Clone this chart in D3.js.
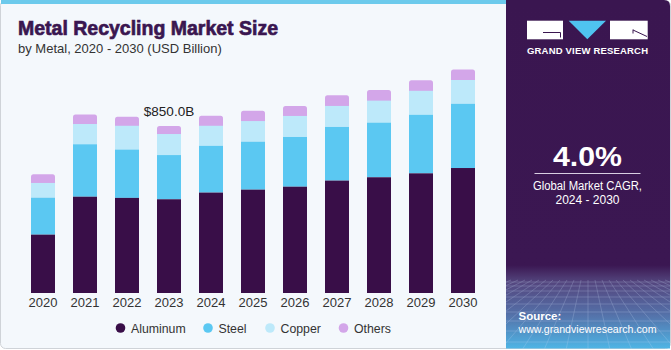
<!DOCTYPE html>
<html>
<head>
<meta charset="utf-8">
<script src="https://cdn.jsdelivr.net/npm/d3@7"></script>
<style>
  html, body { margin: 0; padding: 0; background: #fff; }
  svg { display: block; }
  text { font-family: "Liberation Sans", Arial, sans-serif; }
</style>
</head>
<body>
<div id="chart"></div>
<script>
// values (USD Billion)
const years = ["2020", "2021", "2022", "2023", "2024", "2025", "2026", "2027", "2028", "2029", "2030"];
const aluminum = [297, 490, 484, 477, 511, 526, 541, 572, 589, 609, 636];
const steel    = [188, 267, 246, 225, 238, 244, 253, 273, 278, 298, 327];
const copper   = [75, 103, 121, 107, 102, 105, 107, 107, 112, 122, 121];
const others   = [44, 49, 46, 41, 51, 52, 51, 54, 54, 54, 54];
const seriesNames = ["Aluminum", "Steel", "Copper", "Others"];
const colors = ["#390e48", "#5bc8f2", "#bde9fa", "#d3a6e9"];
const labelYear = "2023", labelText = "$850.0B";

const W = 671, H = 350;
const svg = d3.select("#chart").append("svg").attr("width", W).attr("height", H);

// card background and border
svg.append("rect").attr("x", 0.5).attr("y", 0.5).attr("width", W - 1).attr("height", 348)
  .attr("rx", 5).attr("fill", "#f4f8fc").attr("stroke", "#cfd3d8");
svg.append("rect").attr("x", 1).attr("y", 0).attr("width", 506).attr("height", 4).attr("fill", "#6ccaec");

// title
svg.append("text").attr("x", 18).attr("y", 35).text("Metal Recycling Market Size")
  .attr("font-size", 21).attr("font-weight", 900).attr("fill", "#3a1650")
  .attr("stroke", "#3a1650").attr("stroke-width", 0.7)
  .attr("textLength", 260).attr("lengthAdjust", "spacingAndGlyphs");
svg.append("text").attr("x", 18).attr("y", 53).text("by Metal, 2020 - 2030 (USD Billion)")
  .attr("font-size", 13).attr("fill", "#333");

// data table for the stack
const rows = years.map((y, i) => ({year: y, Aluminum: aluminum[i], Steel: steel[i], Copper: copper[i], Others: others[i]}));
const stack = d3.stack().keys(seriesNames)(rows);

const x = d3.scaleBand().domain(years).range([22, 484]).paddingInner(18 / 42).paddingOuter(9 / 42);
const yScale = d3.scaleLinear().domain([0, 1200]).range([293, 57.2]);

const bars = svg.append("g");
// draw top series first so its rounded corners tuck under the segment below
stack.slice().reverse().forEach(s => {
  const k = seriesNames.indexOf(s.key);
  const isTop = s.key === "Others";
  bars.selectAll(null).data(s).enter().append("rect")
    .attr("x", d => x(d.data.year))
    .attr("width", x.bandwidth())
    .attr("y", d => yScale(d[1]))
    .attr("height", d => yScale(d[0]) - yScale(d[1]) + (isTop ? 3 : 0))
    .attr("rx", isTop ? 2.5 : 0)
    .attr("fill", colors[k]);
});

// value label
const iLab = years.indexOf(labelYear);
const totalLab = aluminum[iLab] + steel[iLab] + copper[iLab] + others[iLab];
svg.append("text").attr("x", x(labelYear) + x.bandwidth() / 2).attr("y", yScale(totalLab) - 10)
  .attr("text-anchor", "middle").attr("font-size", 13.5).attr("fill", "#222").text(labelText);

// x axis
const xAxis = svg.append("g").attr("transform", "translate(0,293)")
  .call(d3.axisBottom(x).tickSize(0).tickPadding(5));
xAxis.select(".domain").remove();
xAxis.selectAll("text").attr("font-size", 13).attr("fill", "#333")
  .attr("font-family", "'Liberation Sans', Arial, sans-serif");

// legend
const legendX = [120.5, 208, 270, 343.5];
const legend = svg.append("g");
seriesNames.forEach((n, i) => {
  legend.append("circle").attr("cx", legendX[i]).attr("cy", 328).attr("r", 4.8).attr("fill", colors[i]);
  legend.append("text").attr("x", legendX[i] + 10.5).attr("y", 332.5).attr("font-size", 12.3)
    .attr("fill", "#333").text(n);
});

// right panel
const px = 506, pw = W - 1 - px;
const defs = svg.append("defs");
const grad = defs.append("linearGradient").attr("id", "pg").attr("x1", 0).attr("y1", 0).attr("x2", 0).attr("y2", 1);
grad.append("stop").attr("offset", "0").attr("stop-color", "#3a1650");
grad.append("stop").attr("offset", "0.76").attr("stop-color", "#3b1752");
grad.append("stop").attr("offset", "0.81").attr("stop-color", "#54477f");
grad.append("stop").attr("offset", "0.9").attr("stop-color", "#5570a8");
grad.append("stop").attr("offset", "1").attr("stop-color", "#4fb6e6");
defs.append("clipPath").attr("id", "pc").append("path")
  .attr("d", `M${px},0 H${W - 7} Q${W - 1},0 ${W - 1},6 V348.5 H${px} Z`);
const panel = svg.append("g").attr("clip-path", "url(#pc)");
panel.append("rect").attr("x", px).attr("y", 0).attr("width", pw).attr("height", 349).attr("fill", "url(#pg)");

// grid texture at the panel bottom
const grid = panel.append("g").attr("stroke", "#c8d8f5").attr("stroke-width", 0.5).attr("fill", "none").attr("opacity", 0.45);
const hLines = [282, 286, 291, 297, 304, 312, 321, 331, 342];
hLines.forEach(yy => grid.append("line").attr("x1", px).attr("x2", W).attr("y1", yy).attr("y2", yy));
d3.range(-12, 13).forEach(j => {
  grid.append("line").attr("x1", 588 + j * 7).attr("y1", 280).attr("x2", 588 + j * 22).attr("y2", 350);
});

// logo
const logo = svg.append("g");
logo.append("rect").attr("x", 527).attr("y", 20.7).attr("width", 36).attr("height", 18.6).attr("fill", "#fff");
logo.append("path").attr("d", "M543,32.5 H560.5 V37.5").attr("stroke", "#3a1650").attr("stroke-width", 1).attr("fill", "none");
logo.append("path").attr("d", "M568.7,20.7 L606,20.7 L587.3,39.3 Z").attr("fill", "#4fc3f0");
logo.append("rect").attr("x", 610).attr("y", 20.7).attr("width", 37.7).attr("height", 18.6).attr("fill", "#fff");
logo.append("path").attr("d", "M633,29.5 V33.5 M633,30 L647,36.5").attr("stroke", "#3a1650").attr("stroke-width", 1).attr("fill", "none");
svg.append("text").attr("x", 587.5).attr("y", 53.5).attr("text-anchor", "middle").text("GRAND VIEW RESEARCH")
  .attr("font-size", 9.5).attr("font-weight", "bold").attr("fill", "#fff")
  .attr("textLength", 121).attr("lengthAdjust", "spacing");

// CAGR
svg.append("text").attr("x", 587.5).attr("y", 165.5).attr("text-anchor", "middle").text("4.0%")
  .attr("font-size", 27).attr("font-weight", "bold").attr("fill", "#fff")
  .attr("textLength", 69).attr("lengthAdjust", "spacingAndGlyphs");
svg.append("line").attr("x1", 534.5).attr("x2", 640.5).attr("y1", 173.5).attr("y2", 173.5)
  .attr("stroke", "#d9cfe3").attr("stroke-width", 1);
svg.append("text").attr("x", 587.5).attr("y", 190).attr("text-anchor", "middle").text("Global Market CAGR,")
  .attr("font-size", 12).attr("fill", "#fff").attr("textLength", 109).attr("lengthAdjust", "spacingAndGlyphs");
svg.append("text").attr("x", 587.5).attr("y", 204).attr("text-anchor", "middle").text("2024 - 2030")
  .attr("font-size", 12).attr("fill", "#fff");

// source
svg.append("text").attr("x", 518.5).attr("y", 320).text("Source:")
  .attr("font-size", 11.5).attr("font-weight", "bold").attr("fill", "#fff");
svg.append("text").attr("x", 518.5).attr("y", 333).text("www.grandviewresearch.com")
  .attr("font-size", 11).attr("fill", "#fff").attr("textLength", 138).attr("lengthAdjust", "spacingAndGlyphs");
</script>
</body>
</html>
